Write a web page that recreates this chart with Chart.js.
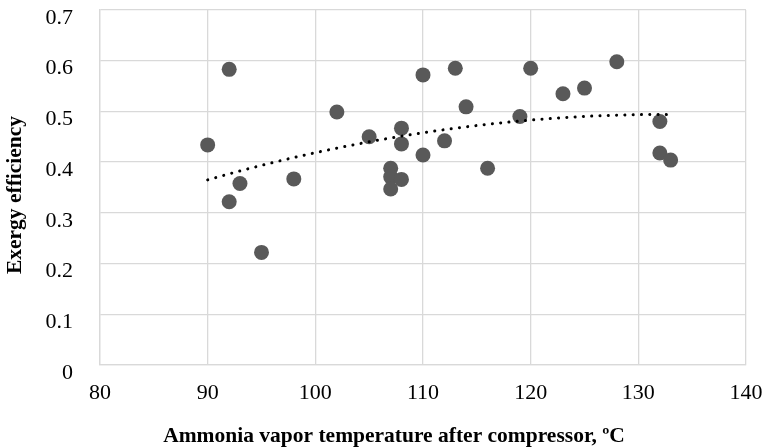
<!DOCTYPE html>
<html>
<head>
<meta charset="utf-8">
<script src="https://cdn.jsdelivr.net/npm/chart.js@4"></script>
<style>
  html, body { margin: 0; padding: 0; background: #fff; }
  #wrap { width: 767px; height: 448px; position: relative; }
</style>
</head>
<body>
<div id="wrap"><canvas id="chart"></canvas></div>
<script>
// ── Data ──────────────────────────────────────────────────────────
const tempC = [90, 92, 92, 93, 95, 98, 102, 105, 107, 107, 107, 108, 108, 108,
  110, 110, 112, 113, 114, 116, 119, 120, 123, 125, 128, 132, 132, 133];
const exergyEff = [0.434, 0.583, 0.322, 0.358, 0.222, 0.367, 0.499, 0.450, 0.388, 0.371, 0.347, 0.467, 0.436, 0.366,
  0.572, 0.414, 0.442, 0.585, 0.509, 0.388, 0.490, 0.585, 0.535, 0.546, 0.598, 0.480, 0.418, 0.404];

const xTicks = [80, 90, 100, 110, 120, 130, 140];
const yTicks = [0, 0.1, 0.2, 0.3, 0.4, 0.5, 0.6, 0.7];
const yTickLabels = ["0", "0.1", "0.2", "0.3", "0.4", "0.5", "0.6", "0.7"];

const X_TITLE = "Ammonia vapor temperature after compressor, \u00baC";
const Y_TITLE = "Exergy efficiency";

const FONT = '"Liberation Serif", "Times New Roman", serif';
const GRID = "#d9d9d9";

// ── Order-2 polynomial trendline (least squares, like Excel) ──────
function polyFit2(xs, ys) {
  const n = xs.length;
  const mx = xs.reduce((a, b) => a + b, 0) / n;
  const s = [0, 0, 0, 0, 0], t = [0, 0, 0];
  xs.forEach((x0, i) => {
    const x = x0 - mx;
    let p = 1;
    for (let k = 0; k < 5; k++) { s[k] += p; if (k < 3) t[k] += p * ys[i]; p *= x; }
  });
  const m = [[s[0], s[1], s[2], t[0]], [s[1], s[2], s[3], t[1]], [s[2], s[3], s[4], t[2]]];
  for (let i = 0; i < 3; i++) {
    for (let j = i + 1; j < 3; j++) {
      const f = m[j][i] / m[i][i];
      for (let k = i; k < 4; k++) m[j][k] -= f * m[i][k];
    }
  }
  const c = [0, 0, 0];
  for (let i = 2; i >= 0; i--) {
    let v = m[i][3];
    for (let k = i + 1; k < 3; k++) v -= m[i][k] * c[k];
    c[i] = v / m[i][i];
  }
  return (x) => c[0] + c[1] * (x - mx) + c[2] * (x - mx) * (x - mx);
}

const trend = polyFit2(tempC, exergyEff);
const xMin = Math.min(...tempC), xMax = Math.max(...tempC);
const trendPts = [];
for (let x = xMin; x <= xMax; x += 0.5) trendPts.push({ x, y: trend(x) });

// ── Axis titles drawn at fixed spots (Excel-like placement) ──────
const axisTitles = {
  id: "axisTitles",
  afterDraw(chart) {
    const ctx = chart.ctx;
    ctx.save();
    ctx.fillStyle = "#000";
    ctx.font = `bold 21.5px ${FONT}`;
    ctx.textAlign = "center";
    ctx.textBaseline = "middle";
    ctx.fillText(X_TITLE, 394, 436);
    ctx.translate(15, 195);
    ctx.rotate(-Math.PI / 2);
    ctx.fillText(Y_TITLE, 0, 0);
    ctx.restore();
  },
};

new Chart(document.getElementById("chart"), {
  type: "scatter",
  data: {
    datasets: [
      {
        label: "Trend",
        type: "line",
        data: trendPts,
        borderColor: "#000",
        borderWidth: 3,
        borderDash: [0.1, 8.2],
        borderCapStyle: "round",
        pointRadius: 0,
        fill: false,
        tension: 0,
        order: 0,
      },
      {
        label: "Exergy efficiency",
        data: tempC.map((x, i) => ({ x, y: exergyEff[i] })),
        backgroundColor: "#595959",
        borderWidth: 0,
        pointRadius: 7.5,
        order: 1,
      },
    ],
  },
  options: {
    responsive: true,
    maintainAspectRatio: false,
    animation: false,
    layout: { padding: { left: 0, right: 21, top: 10, bottom: 0 } },
    plugins: { legend: { display: false }, tooltip: { enabled: false } },
    scales: {
      x: {
        type: "linear",
        min: xTicks[0],
        max: xTicks[xTicks.length - 1],
        afterBuildTicks: (s) => { s.ticks = xTicks.map((v) => ({ value: v })); },
        afterFit: (s) => { s.height = 83; s.paddingLeft = 0; s.paddingRight = 0; },
        ticks: { color: "#000", font: { family: FONT, size: 22 }, padding: 15 },
        grid: { color: GRID, lineWidth: 1.3, drawTicks: false },
        border: { color: GRID, width: 1.3 },
      },
      y: {
        type: "linear",
        min: yTicks[0],
        max: yTicks[yTicks.length - 1],
        afterBuildTicks: (s) => { s.ticks = yTicks.map((v) => ({ value: v })); },
        afterFit: (s) => { s.width = 100; s.paddingTop = 0; s.paddingBottom = 0; },
        ticks: {
          color: "#000",
          font: { family: FONT, size: 22 },
          padding: 27,
          labelOffset: 8,
          callback: (v, i) => yTickLabels[i],
        },
        grid: { color: GRID, lineWidth: 1.3, drawTicks: false },
        border: { color: GRID, width: 1.3 },
      },
    },
  },
  plugins: [axisTitles],
});
</script>
</body>
</html>
